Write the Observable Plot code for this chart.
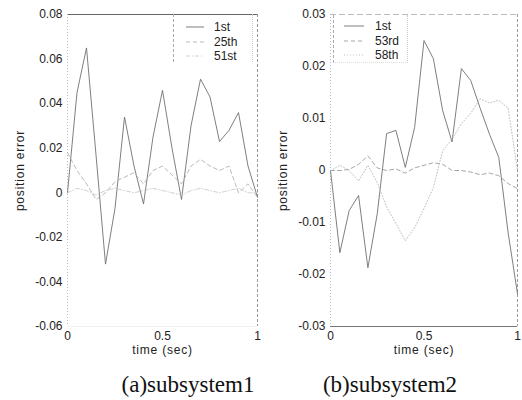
<!DOCTYPE html>
<html>
<head>
<meta charset="utf-8">
<script src="https://cdn.jsdelivr.net/npm/d3@7"></script>
<script src="https://cdn.jsdelivr.net/npm/@observablehq/plot@0.6"></script>
<style>
  html, body { margin: 0; padding: 0; background: #fff; }
  #wrap { position: relative; width: 522px; height: 400px; overflow: hidden; background: #fff; }
  .panel { position: absolute; top: 0; }
  .caption { position: absolute; font-family: "Liberation Serif", "Times New Roman", serif; font-size: 23px; color: #111; white-space: nowrap; transform: translateX(-50%); }
  .legend { position: absolute; font-family: "Liberation Sans", Arial, sans-serif; font-size: 12px; color: #222; box-sizing: border-box; }
  .legend .row { position: absolute; left: 0; height: 14px; line-height: 14px; white-space: nowrap; }
  .legend svg { position: absolute; top: 0; }
  .legend span { position: absolute; top: 0; }
  svg [aria-label="x-axis label"] text, svg [aria-label="y-axis label"] text { letter-spacing: 0.8px; }
</style>
</head>
<body>
<div id="wrap"></div>
<script>
// ---------- data ----------
const time = [0, 0.05, 0.1, 0.15, 0.2, 0.25, 0.3, 0.35, 0.4, 0.45, 0.5, 0.55, 0.6, 0.65, 0.7, 0.75, 0.8, 0.85, 0.9, 0.95, 1.0];

// (a) subsystem1
const namesA = ["1st", "25th", "51st"];
const a1st  = [0, 0.045, 0.065, 0.017, -0.032, -0.007, 0.034, 0.012, -0.005, 0.025, 0.046, 0.020, -0.003, 0.030, 0.051, 0.043, 0.023, 0.028, 0.036, 0.012, -0.002];
const a25th = [0.018, 0.010, 0.004, -0.003, 0.000, 0.005, 0.007, 0.009, 0.004, 0.010, 0.012, 0.008, 0.004, 0.012, 0.015, 0.012, 0.010, 0.012, 0.000, 0.004, -0.002];
const a51st = [0, 0.002, 0.001, -0.001, 0.001, 0.002, 0.001, 0.000, 0.001, 0.002, 0.001, 0.000, -0.001, 0.001, 0.002, 0.001, 0.000, 0.001, 0.002, 0.000, 0.000];
const yTicksA = [-0.06, -0.04, -0.02, 0, 0.02, 0.04, 0.06, 0.08];
const yLabelsA = ["-0.06", "-0.04", "-0.02", "0", "0.02", "0.04", "0.06", "0.08"];

// (b) subsystem2
const namesB = ["1st", "53rd", "58th"];
const b1st  = [0, -0.0158, -0.0077, -0.0048, -0.0187, -0.0083, 0.0071, 0.0077, 0.0006, 0.0083, 0.0250, 0.0215, 0.0115, 0.0055, 0.0196, 0.0173, 0.0120, 0.0070, 0.0025, -0.0120, -0.0237];
const b53rd = [0, 0, 0.0002, 0.0012, 0.0028, 0.0005, 0.0000, 0.0003, -0.0005, 0.0005, 0.0010, 0.0015, 0.0012, 0.0000, 0.0000, -0.0003, -0.0008, -0.0005, -0.0010, -0.0025, -0.0035];
const b58th = [0, 0.0010, 0.0000, -0.0020, 0.0010, -0.0023, -0.0070, -0.0102, -0.0135, -0.0110, -0.0073, -0.0033, 0.0038, 0.0060, 0.0090, 0.0110, 0.0138, 0.0130, 0.0135, 0.0120, 0.0000];
const yTicksB = [-0.03, -0.02, -0.01, 0, 0.01, 0.02, 0.03];
const yLabelsB = ["-0.03", "-0.02", "-0.01", "0", "0.01", "0.02", "0.03"];

const xTicks = [0, 0.5, 1];
const xLabels = ["0", "0.5", "1"];
const xDomain = [0, 1];

const captions = ["(a)subsystem1", "(b)subsystem2"];

// ---------- styles ----------
const lineStylesB = [
  {stroke: "#707070", strokeWidth: 0.9, strokeDasharray: null},
  {stroke: "#909090", strokeWidth: 0.8, strokeDasharray: "4,3"},
  {stroke: "#b0b0b0", strokeWidth: 0.8, strokeDasharray: "1,2"}
];
const lineStylesA = [
  {stroke: "#707070", strokeWidth: 0.9, strokeDasharray: null},
  {stroke: "#a8a8a8", strokeWidth: 0.8, strokeDasharray: "4,3"},
  {stroke: "#c4c4c4", strokeWidth: 0.8, strokeDasharray: "4,2,1,2"}
];

function rows(names, arrays) {
  const out = [];
  names.forEach((n, k) => time.forEach((t, i) => out.push({series: n, k, t, v: arrays[k][i]})));
  return out;
}

function panel({names, arrays, styles, yTicks, yLabels, marginLeft, marginRight, frame}) {
  const data = rows(names, arrays);
  const yDomain = [yTicks[0], yTicks[yTicks.length - 1]];
  const fmtY = d => yLabels[yTicks.findIndex(v => Math.abs(v - d) < 1e-9)];
  const fmtX = d => xLabels[xTicks.findIndex(v => Math.abs(v - d) < 1e-9)];
  const lines = names.map((n, k) => Plot.line(data.filter(r => r.k === k), {
    x: "t", y: "v",
    stroke: styles[k].stroke, strokeWidth: styles[k].strokeWidth,
    strokeDasharray: styles[k].strokeDasharray
  }));
  return Plot.plot({
    width: 261, height: 360,
    marginTop: 14, marginBottom: 34, marginLeft, marginRight,
    style: {fontFamily: "'Liberation Sans', Arial, sans-serif", fontSize: "12px", overflow: "visible", background: "transparent", color: "#222"},
    x: {domain: xDomain},
    y: {domain: yDomain},
    marks: [
      Plot.axisX({ticks: xTicks, tickFormat: fmtX, tickSize: 0, tickPadding: 5, label: "time (sec)", labelAnchor: "center", labelOffset: 27, labelArrow: "none"}),
      Plot.axisY({ticks: yTicks, tickFormat: fmtY, tickSize: 0, tickPadding: 5, label: "position error", labelAnchor: "center", labelOffset: 52, labelArrow: "none"}),
      Plot.ruleY([yDomain[1]], {stroke: frame.top, strokeWidth: 1, strokeDasharray: frame.topDash}),
      Plot.ruleY([yDomain[0]], {stroke: frame.bottom, strokeWidth: 1, strokeDasharray: frame.bottomDash}),
      Plot.ruleX([xDomain[0]], {stroke: frame.left, strokeWidth: 1, strokeDasharray: "1,2"}),
      Plot.ruleX([xDomain[1]], {stroke: frame.right, strokeWidth: 1, strokeDasharray: "3,2"}),
      ...lines
    ]
  });
}

const wrap = document.getElementById("wrap");

const pA = panel({names: namesA, arrays: [a1st, a25th, a51st], styles: lineStylesA, yTicks: yTicksA, yLabels: yLabelsA,
  marginLeft: 67, marginRight: 4, frame: {top: "#666", topDash: null, bottom: "#f2f2f2", bottomDash: null, left: "#bbb", right: "#999"}});
const pB = panel({names: namesB, arrays: [b1st, b53rd, b58th], styles: lineStylesB, yTicks: yTicksB, yLabels: yLabelsB,
  marginLeft: 69, marginRight: 5, frame: {top: "#bbb", topDash: "6,3", bottom: "#777", bottomDash: null, left: "#bbb", right: "#999"}});

const dA = document.createElement("div"); dA.className = "panel"; dA.style.left = "0px"; dA.appendChild(pA); wrap.appendChild(dA);
const dB = document.createElement("div"); dB.className = "panel"; dB.style.left = "261px"; dB.appendChild(pB); wrap.appendChild(dB);

// legends (HTML overlays)
function legend(names, styles, box, sample, textLeft) {
  const lg = document.createElement("div");
  lg.className = "legend";
  Object.assign(lg.style, {left: box.left + "px", top: box.top + "px", width: box.width + "px", height: box.height + "px",
    borderLeft: "1px dashed #aaa", borderBottom: box.bottom ? "1px dotted #ddd" : "none", borderRight: "1px dotted #ccc"});
  names.forEach((n, k) => {
    const r = document.createElement("div");
    r.className = "row";
    r.style.top = (box.firstRow + k * 14.5 - 7) + "px";
    r.style.width = box.width + "px";
    const s = d3.create("svg").attr("width", sample[1] + 2).attr("height", 14).style("left", "0px");
    s.append("line").attr("x1", sample[0]).attr("x2", sample[1]).attr("y1", 7).attr("y2", 7)
      .attr("stroke", styles[k].stroke).attr("stroke-width", styles[k].strokeWidth)
      .attr("stroke-dasharray", styles[k].strokeDasharray);
    r.appendChild(s.node());
    const sp = document.createElement("span");
    sp.textContent = n;
    sp.style.left = textLeft + "px";
    r.appendChild(sp);
    lg.appendChild(r);
  });
  wrap.appendChild(lg);
}
legend(namesA, lineStylesA, {left: 173, top: 14, width: 80, height: 48, firstRow: 13, bottom: false}, [12, 30], 40);
legend(namesB, lineStylesB, {left: 333, top: 15, width: 75, height: 48, firstRow: 11, bottom: true}, [10, 30], 41);

// captions
const capX = [188, 390];
captions.forEach((c, i) => {
  const d = document.createElement("div");
  d.className = "caption";
  d.textContent = c;
  d.style.left = capX[i] + "px";
  d.style.top = "372px";
  wrap.appendChild(d);
});
</script>
</body>
</html>
